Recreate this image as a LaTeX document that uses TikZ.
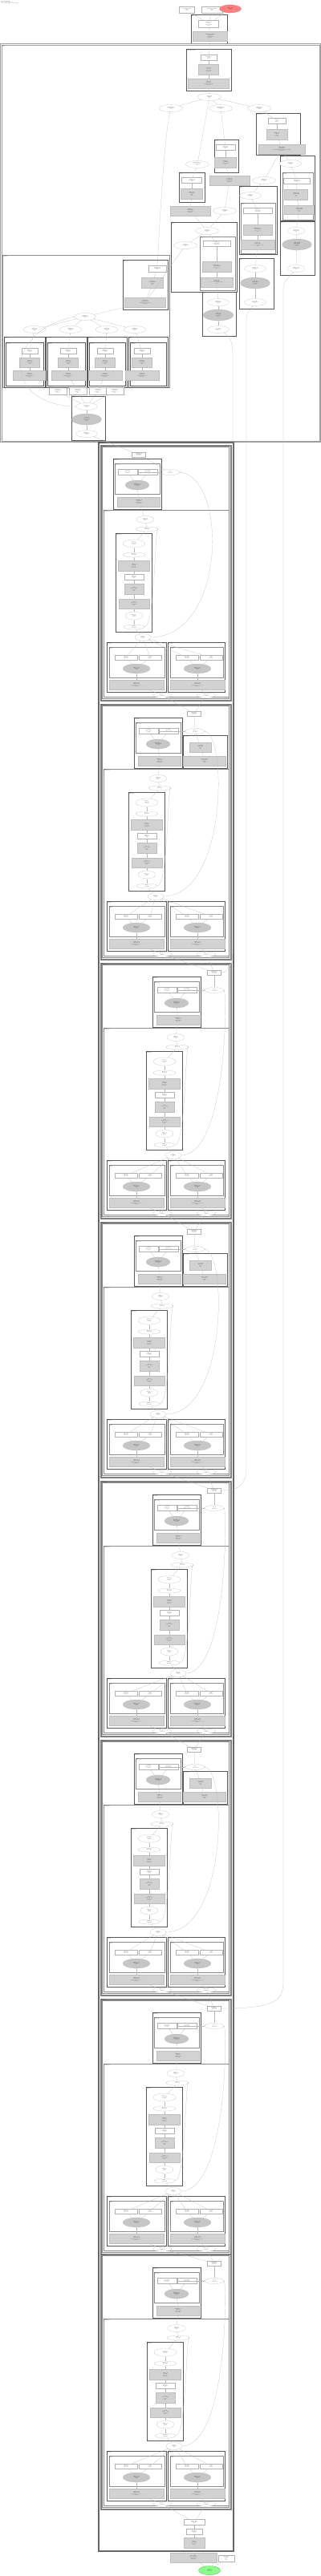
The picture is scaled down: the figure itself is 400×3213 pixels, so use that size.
\documentclass[tikz,border=0pt]{standalone}
\usetikzlibrary{shapes.geometric,arrows.meta}

\newcommand{\nodefont}{\fontsize{3.2}{3.7}\selectfont}
\newcommand{\grpfont}{\fontsize{3}{3.4}\selectfont}
\newcommand{\tx}[2]{\textbf{#1}\\#2}
\newcommand{\txx}[3]{\textbf{#1}\\#2\\#3}
\newcommand{\txxx}[4]{\textbf{#1}\\#2\\#3\\#4}

\tikzset{
  opbox/.style 2 args={draw=gray!60, fill=white, rectangle, minimum width=#1mm, minimum height=#2mm,
    inner sep=0.2mm, font=\nodefont, align=center},
  opgray/.style 2 args={opbox={#1}{#2}, fill=gray!35, draw=gray!50},
  opell/.style 2 args={opbox={#1}{#2}, ellipse},
  opgell/.style 2 args={opell={#1}{#2}, fill=gray!45, draw=gray!55},
  grp/.style={draw=black!65, line width=0.35mm},
  grpthin/.style={draw=black!45, line width=0.25mm},
  grpouter/.style={draw=black!60, line width=0.4mm},
  grplabel/.style={font=\grpfont, anchor=north west, inner sep=0.4mm, align=left},
  dep/.style={draw=gray!55, line width=0.2mm, -{Stealth[length=1mm,width=0.8mm]}},
}

% cluster frame with its label in the upper left corner
\newcommand{\grpbox}[5][grp]{\draw[#1] (#2) rectangle (#3); \node[grplabel] (#4) at (#2) {#5};}

% one decoder layer: #1 index, #2 top, #3 shift of the mlp chain, #4 header variant
\newcommand{\layerblock}[4]{%
  \ifcase#4 \def\hx{23}\def\ix{267}\def\gx{267}\or \def\hx{0}\def\ix{242}\def\gx{243}\or \def\hx{-26}\def\ix{173}\def\gx{212}\fi
  \begin{scope}[shift={(0,#2)}]
    \draw[grpouter, draw=black!50] (125,0) rectangle (288,319);
    \draw[grpouter, draw=black!50] (126.2,1.2) rectangle (286.8,317.8);
    \draw[grpthin] (127.5,2.5) rectangle (285.5,316.5);
    \node[grplabel] (L#1-lbl) at (125,0) {layers.#1\\DecoderLayer};
    \node[opbox={17}{6}] (L#1-in) at (\ix,12) {\txx{residual\_#1}{1x64x768}{float32}};
    \node[opell={24}{7}] (L#1-gate) at (\gx,34) {\tx{ln\_#1}{1x64x768}};
    \draw[dep] (L#1-gate) -- (L#1-in);
    % attention
    \begin{scope}[xshift=\hx mm]
      \grpbox{167,17}{227,80}{L#1-hl}{self\_attn.#1\\Attention}
      \grpbox[grpthin]{169,23}{225,61}{L#1-hil}{qk.#1\\Projection}
      \node[opbox={24}{7}] (L#1-ka) at (185,34) {\txx{q\_proj.#1}{768 -> 768}{weight}};
      \node[opbox={24}{7}] (L#1-kb) at (210,34) {\txx{k\_proj.#1}{768 -> 768}{weight}};
      \node[opgell={30}{12}] (L#1-ke) at (197,50) {\txx{matmul\_#1}{1x12x64x64}{scaled}};
      \node[opgray={53}{12}] (L#1-kg) at (199,71) {\txxx{softmax\_#1}{dim=-1}{1x12x64x64}{float32}};
    \end{scope}
    \draw[dep] (L#1-ka) -- (L#1-gate);
    \draw[dep] (L#1-kb) -- (L#1-gate);
    \draw[dep] (L#1-ke) -- (L#1-ka);
    \draw[dep] (L#1-ke) -- (L#1-kb);
    \draw[dep] (L#1-kg) -- (L#1-ke);
    \ifnum#4=1
      \grpbox{228,39}{283,80}{L#1-hr}{v.#1\\Projection}
      \node[opgray={27}{12}] (L#1-ra) at (250,54) {\txxx{v\_proj.#1}{1x64x768}{bias}{f32}};
      \node[opgray={53}{12}] (L#1-rb) at (255,71) {\txxx{attn\_out.#1}{1x64x768}{reshape}{f32}};
      \draw[dep] (L#1-ra) -- (L#1-gate);
      \draw[dep] (L#1-rb) -- (L#1-ra);
    \fi
    % feed forward
    \grpbox[grpthin]{129,81}{285,314}{L#1-bl}{mlp.#1\\FeedForward}
    \begin{scope}[xshift=#3 mm]
      \node[opell={22}{9}] (L#1-m1) at (197,93) {\txx{add\_#1}{1x64x768}{f32}};
      \node[opell={28}{6}] (L#1-m2) at (199,105) {\tx{norm\_#1}{eps=1e-5}};
      \grpbox{160,110}{205,233}{L#1-chl}{post.#1\\RMSNorm}
      \node[opell={28}{10}] (L#1-c1) at (183,123) {\txx{pow\_#1}{1x64x768}{exp=2}};
      \node[opell={28}{6}] (L#1-c2) at (183,137) {\tx{mean\_#1}{keepdim}};
      \node[opgray={39}{13}] (L#1-c3) at (183,151) {\txxx{rsqrt\_#1}{1x64x1}{eps=1e-5}{float32}};
      \node[opbox={24}{7}] (L#1-c4) at (183,165) {\txx{mul\_#1}{1x64x768}{f32}};
      \node[opgray={24}{13}] (L#1-c5) at (183,180) {\txxx{fc1.#1}{768 -> 3072}{gelu}{f32}};
      \node[opgray={38}{12}] (L#1-c6) at (183,198) {\txxx{fc2.#1}{3072 -> 768}{1x64x768}{f32}};
      \node[opell={22}{10}] (L#1-c7) at (183,213) {\txx{drop\_#1}{p=0.1}{train}};
      \node[opell={26}{6}] (L#1-c8) at (183,227) {\tx{add2\_#1}{1x64x768}};
      \node[opell={20}{9}] (L#1-m3) at (194,240) {\txx{out\_#1}{1x64x768}{f32}};
      \draw[dep] (L#1-c8.east) .. controls (209,227) and (209,105) .. (L#1-m2.east);
    \end{scope}
    \draw[dep] (L#1-m1) -- (L#1-kg);
    \draw[dep] (L#1-m2) -- (L#1-m1);
    \draw[dep] (L#1-c1) -- (L#1-m2);
    \foreach \j [count=\n from 2] in {1,...,7} {\draw[dep] (L#1-c\n) -- (L#1-c\j);}
    \draw[dep] (L#1-m3) -- (L#1-c8);
    \draw[dep] (L#1-m3.east) .. controls (283,238) and (283,40) .. (L#1-gate.east);
    % key / value caches
    \foreach \k/\xa/\xb/\ox in {1/133/207/202,2/209/280/257} {
      \grpbox{\xa,246}{\xb,308}{L#1-sl\k}{cache.\k\\KVCache}
      \grpbox[grpthin]{\xa+3,252}{\xb-2,290}{L#1-sil\k}{proj.\k\\Linear}
      \node[opbox={28}{6}] (L#1-sa\k) at (\xa+24,265) {\txx{w\_#1.\k}{768 x 768}{float32}};
      \node[opbox={28}{6}] (L#1-sb\k) at (\xa+54,265) {\txx{b\_#1.\k}{768}{float32}};
      \node[opgell={34}{12}] (L#1-se\k) at (\xa+37,279) {\txx{linear\_#1.\k}{1x64x768}{f32}};
      \node[opgray={68}{12}] (L#1-sg\k) at (\xa+37,299) {\txxx{cache\_#1.\k}{1x12x64x64}{transpose(0, 2, 1, 3)}{float16}};
      \node[opell={24}{6}] (L#1-o\k) at (\ox,312) {\tx{kv\_#1.\k}{1x12x64}};
      \draw[dep] (L#1-sa\k) -- (L#1-m3);
      \draw[dep] (L#1-sb\k) -- (L#1-m3);
      \draw[dep] (L#1-se\k) -- (L#1-sa\k);
      \draw[dep] (L#1-se\k) -- (L#1-sb\k);
      \draw[dep] (L#1-sg\k) -- (L#1-se\k);
      \draw[dep] (L#1-o\k) -- (L#1-sg\k);
    }
  \end{scope}}

\begin{document}
\begin{tikzpicture}[x=1mm,y=-1mm]
  \useasboundingbox (0,0) rectangle (400,3213);
  \node[grplabel] (title) at (1,1) {\textbf{decoder\_graph}\\nodes: 1412, edges: 1796\\ids [1, 64] -> logits [1, 64, 32000]};

  % inputs and embedding
  \node[opbox={19}{8}] (in1) at (233,12) {\txx{position\_ids}{1x64}{int64}};
  \node[opbox={26}{8}] (in2) at (264,12) {\txx{attention\_mask}{1x64}{int64}};
  \node[opell={27}{10}, fill=red!50, draw=red!60] (ids) at (287,11) {\txx{input\_ids}{1x64}{int64}};
  \grpbox{238,18}{283,54}{embl}{embed\\Embedding}
  \node[opbox={25}{9}] (e1) at (260,30) {\txxx{gather\_0}{1x64}{vocab 32000}{int64}};
  \node[opgray={43}{12}] (e2) at (262,45) {\txxx{embed\_tokens}{1x64x768}{32000 x 768}{float32}};
  \draw[dep] (e1) -- (in1);
  \draw[dep] (e1) -- (in2);
  \draw[dep] (e1) -- (ids);
  \draw[dep] (e2) -- (e1);

  % model setup
  \draw[grpouter, draw=gray!75] (0.5,54.5) rectangle (399.5,551.5);
  \draw[grpouter, draw=gray!75] (1.7,55.7) rectangle (398.3,550.3);
  \node[grplabel] (modl) at (2,56) {model\\Setup};
  \grpbox{232,61}{288,113}{rotl}{rotary\\RotaryEmbedding}
  \node[opbox={20}{7}] (n1) at (260,72) {\txx{arange\_0}{64}{int64}};
  \node[opgray={25}{13}] (n2) at (260,87) {\txxx{inv\_freq}{1x32}{theta=1e4}{float32}};
  \node[opgray={51}{12}] (n3) at (260,104) {\txxx{outer\_0}{1x64x32}{cat(freqs, freqs)}{float32}};
  \draw[dep] (n1) -- (e2);
  \draw[dep] (n2) -- (n1);
  \draw[dep] (n3) -- (n2);
  \node[opell={29}{9}] (r0) at (261,121) {\txx{cos\_sin}{1x64x64}{f32}};
  \draw[dep] (r0) -- (n3);
  \node[opell={29}{9}] (r1) at (213,135) {\txx{unsqueeze\_0}{1x1x64x64}{cos}};
  \node[opell={29}{9}] (r2) at (275,135) {\txx{unsqueeze\_1}{1x1x64x64}{sin}};
  \node[opell={29}{9}] (r3) at (323,135) {\txx{expand\_0}{1x1x64x64}{mask}};
  \foreach \r in {r1,r2,r3} {\draw[dep] (\r) -- (r0);}

  \grpbox{319,141}{374,193}{maskl}{mask\\CausalMask}
  \node[opbox={22}{7}] (t1) at (345,151) {\txx{triu\_0}{64x64}{diag=1}};
  \node[opgray={26}{13}] (t2) at (345,168) {\txxx{where\_0}{64x64}{-inf}{float32}};
  \node[opgray={58}{12}] (t3) at (351,186) {\txxx{add\_mask}{1x1x64x64}{broadcast(mask, attention\_mask)}{float32}};
  \draw[dep] (t1) -- (r3);
  \draw[dep] (t2) -- (t1);
  \draw[dep] (t3) -- (t2);

  \grpbox{267,174}{297,215}{sinl}{sin\\Rotate}
  \node[opbox={24}{7}] (u1) at (281,184) {\txx{slice\_0}{1x1x64x32}{f32}};
  \node[opgray={27}{13}] (u2) at (281,203) {\txxx{neg\_0}{1x1x64x32}{rotate\_half}{f32}};
  \draw[dep] (u1) -- (r2);
  \draw[dep] (u2) -- (u1);
  \node[opgray={50}{12}] (g1) at (286,225) {\txxx{concat\_0}{1x1x64x64}{cat(-x2, x1)}{float32}};
  \draw[dep] (g1) -- (u2);
  \node[opell={29}{9}] (r4) at (246,205) {\txx{unsqueeze\_2}{1x1x64x64}{pos}};
  \draw[dep] (r4) -- (r0);
  \grpbox{223,215}{255,252}{cosl}{cos\\Rotate}
  \node[opbox={25}{7}] (v1) at (239,225) {\txx{slice\_1}{1x1x64x32}{f32}};
  \node[opgray={27}{13}] (v2) at (239,242) {\txxx{mul\_cos}{1x1x64x32}{rotate}{f32}};
  \draw[dep] (v1) -- (r4);
  \draw[dep] (v2) -- (v1);
  \node[opgray={50}{12}] (g2) at (237,263) {\txxx{concat\_1}{1x1x64x64}{cat(x1, x2)}{float32}};
  \draw[dep] (g2) -- (v2);
  \node[opell={29}{9}] (r5) at (280,263) {\txx{rope\_0}{1x1x64x64}{f32}};
  \draw[dep] (r5) -- (g1);
  \node[opell={29}{9}] (r6) at (329,225) {\txx{mask\_0}{1x1x64x64}{f32}};
  \draw[dep] (r6) -- (t3);

  \grpbox{213,277}{295,364}{ropel}{rope\\Apply}
  \node[opell={29}{9}] (r7) at (258,288) {\txx{rope\_1}{1x1x64x64}{f32}};
  \node[opell={29}{9}] (r8) at (231,306) {\txx{rope\_2}{1x1x64x64}{f32}};
  \draw[dep] (r7) -- (g2);
  \draw[dep] (r7) -- (r5);
  \draw[dep] (r8) -- (r7);
  \grpbox[grpthin]{249,295}{293,362}{ropeal}{rope.q\\Linear}
  \node[opbox={34}{7}] (w1) at (270,304) {\txx{view\_0}{1x64x12x64}{contiguous}};
  \node[opgray={36}{13}] (w2) at (270,333) {\txxx{transpose\_0}{1x12x64x64}{(0, 2, 1, 3)}{f32}};
  \node[opgray={40}{12}] (w3) at (270,352) {\txxx{rotate\_q}{1x12x64x64}{q * cos + rot(q) * sin}{f32}};
  \draw[dep] (w1) -- (r7);
  \draw[dep] (w2) -- (w1);
  \draw[dep] (w3) -- (w2);

  \grpbox{298,232}{345,317}{ropekl}{rope.k\\Apply}
  \node[opell={27}{9}] (x0) at (312,244) {\txx{rope\_3}{1x1x64x64}{f32}};
  \draw[dep] (x0) -- (r6);
  \grpbox[grpthin]{300,253}{343,316}{ropekal}{rope.k\\Linear}
  \node[opbox={36}{7}] (x1) at (321,263) {\txx{view\_1}{1x64x12x64}{contiguous}};
  \node[opgray={36}{13}] (x2) at (321,287) {\txxx{transpose\_1}{1x12x64x64}{(0, 2, 1, 3)}{f32}};
  \node[opgray={42}{12}] (x3) at (321,305) {\txxx{rotate\_k}{1x12x64x64}{k * cos + rot(k) * sin}{f32}};
  \draw[dep] (x1) -- (x0);
  \draw[dep] (x2) -- (x1);
  \draw[dep] (x3) -- (x2);

  \grpbox{349,194}{392,275}{padl}{pad\\Mask}
  \node[opell={28}{9}] (y0) at (362,204) {\txx{pad\_0}{1x1x64x64}{f32}};
  \draw[dep] (y0) -- (t3);
  \grpbox[grpthin]{352,215}{390,274}{padal}{pad\\Expand}
  \node[opbox={33}{7}] (y1) at (370,226) {\txx{expand\_1}{1x12x64x64}{f32}};
  \node[opgray={29}{13}] (y2) at (369,243) {\txxx{mask\_fill}{1x12x64x64}{-inf}{f32}};
  \node[opgray={37}{11}] (y3) at (373,262) {\txxx{mask\_bias}{1x12x64x64}{scale}{f32}};
  \draw[dep] (y1) -- (y0);
  \draw[dep] (y2) -- (y1);
  \draw[dep] (y3) -- (y2);

  \grpbox{349,276}{392,343}{shmask}{mask\\Share}
  \node[opell={22}{9}] (z1) at (369,288) {\txx{share\_0}{1x12x64x64}{f32}};
  \node[opgell={37}{14}] (z2) at (370,305) {\txxx{cast\_mask}{1x12x64x64}{to float16}{f16}};
  \node[opell={22}{9}] (z3) at (369,335) {\txx{mask\_out}{1x12x64x64}{f16}};
  \draw[dep] (z1) -- (y3);
  \draw[dep] (z2) -- (z1);
  \draw[dep] (z3) -- (z2);
  \grpbox{298,322}{341,385}{shk}{k\\Share}
  \node[opell={27}{9}] (a1) at (318,335) {\txx{share\_1}{1x12x64x64}{f32}};
  \node[opgell={37}{14}] (a2) at (318,353) {\txxx{cast\_k}{1x12x64x64}{to float16}{f16}};
  \node[opell={27}{9}] (a3) at (318,377) {\txx{k\_out}{1x12x64x64}{f16}};
  \draw[dep] (a1) -- (x3);
  \draw[dep] (a2) -- (a1);
  \draw[dep] (a3) -- (a2);
  \grpbox{252,364}{294,419}{shq}{q\\Share}
  \node[opell={27}{9}] (b1) at (272,377) {\txx{share\_2}{1x12x64x64}{f32}};
  \node[opgell={38}{14}] (b2) at (272,393) {\txxx{cast\_q}{1x12x64x64}{to float16}{f16}};
  \node[opell={27}{9}] (b3) at (272,411) {\txx{q\_out}{1x12x64x64}{f16}};
  \draw[dep] (b1) -- (w3);
  \draw[dep] (b2) -- (b1);
  \draw[dep] (b3) -- (b2);

  % heads
  \grpbox[grpthin]{3,318}{211,483}{headsl}{heads\\MultiHead}
  \grpbox{153,324}{209,386}{hsplit}{split\\Reshape}
  \node[opbox={22}{8}] (p1) at (196,335) {\txx{reshape\_0}{1x64x12x64}{f32}};
  \node[opgray={27}{13}] (p2) at (190,353) {\txxx{split\_0}{4 x 1x64x3x64}{dim=2}{f32}};
  \node[opgray={51}{12}] (p3) at (181,377) {\txxx{stack\_0}{4x1x64x3x64}{stack(h0, h1, h2, h3)}{float32}};
  \draw[dep] (p2) -- (p1);
  \draw[dep] (p3) -- (p2);
  \draw[dep] (p1.north) .. controls (200,260) and (205,170) .. (r1);
  \draw[dep] (p3) -- (r8);
  \node[opell={27}{9}] (q0) at (106,395) {\txx{heads\_0}{4x1x64x3x64}{f32}};
  \draw[dep] (q0) -- (p3);
  \foreach \i/\a/\b/\cx/\qx/\kx in {1/5/56/37/43/72,2/57/108/85/88/97,3/109/158/131/133/122,4/160/209/177/168/143} {
    \node[opell={28}{9}] (q\i) at (\qx,411) {\txx{select\_\i}{1x64x3x64}{f32}};
    \draw[dep] (q\i) -- (q0);
    \grpbox{\a,420}{\b,483}{hl\i}{head.\i\\Head}
    \grpbox{\a+2,427}{\b-2,481}{hil\i}{score.\i\\Attention}
    \node[opbox={20}{7}] (ha\i) at (\cx,438) {\txx{bmm\_\i}{1x3x64x64}{f32}};
    \node[opgray={25}{12}] (hb\i) at (\cx,452) {\txxx{scale\_\i}{1x3x64x64}{1/sqrt(64)}{f32}};
    \node[opgray={42}{12}] (hc\i) at (\cx,468) {\txxx{probs\_\i}{1x3x64x64}{softmax(dim=-1)}{float32}};
    \draw[dep] (ha\i) -- (q\i);
    \draw[dep] (hb\i) -- (ha\i);
    \draw[dep] (hc\i) -- (hb\i);
    \node[opbox={22}{9}] (k\i) at (\kx,488) {\txxx{context\_\i}{1x3x64x64}{bmm(p, v)}{f32}};
    \draw[dep] (k\i) -- (hc\i);
  }
  \grpbox{89,494}{131,549}{mergel}{merge\\Concat}
  \node[opell={27}{9}] (s1) at (108,507) {\txx{concat\_2}{1x64x768}{f32}};
  \node[opgell={37}{14}] (s2) at (108,523) {\txxx{o\_proj}{768 -> 768}{1x64x768}{f32}};
  \node[opell={27}{9}] (s3) at (108,541) {\txx{hidden\_0}{1x64x768}{f32}};
  \foreach \i in {1,...,4} {\draw[dep] (s1) -- (k\i);}
  \draw[dep] (s2) -- (s1);
  \draw[dep] (s3) -- (s2);
  \draw[dep] (s1.west) .. controls (4,505) and (2,415) .. (q0.west);

  % decoder layers
  \draw[grpouter] (122,551) rectangle (291,3182);
  \draw[grpouter] (123.2,552.2) rectangle (289.8,3180.8);
  \node[grplabel] (layl) at (122,551) {layers\\ModuleList};
  \layerblock{0}{555}{-16}{2}
  \layerblock{1}{878}{0}{1}
  \layerblock{2}{1201}{22}{0}
  \layerblock{3}{1524}{3}{1}
  \layerblock{4}{1847}{28}{0}
  \layerblock{5}{2170}{3}{1}
  \layerblock{6}{2493}{22}{0}
  \layerblock{7}{2811}{23}{0}
  \draw[dep] (L0-in) -- (s3);
  \foreach \p [count=\k] in {0,...,6} {
    \draw[dep] (L\k-in) -- (L\p-o1);
    \draw[dep] (L\k-in) -- (L\p-o2);
  }
  % shared tensors from the setup
  \draw[dep] (L2-in.east) .. controls (285,1213) and (290,1205) .. (290,1185) -- (290,440) .. controls (290,425) and (285,418) .. (b3);
  \draw[dep] (L4-in.east) .. controls (300,1859) and (307,1850) .. (307,1830) -- (307,400) .. controls (307,390) and (312,386) .. (a3);
  \draw[dep] (L6-in.east) .. controls (345,2505) and (353,2495) .. (353,2470) -- (353,360) .. controls (353,350) and (362,344) .. (z3);

  % head of the model
  \node[opbox={26}{7}] (f1) at (242,3146) {\txx{final\_add}{1x64x768}{f32}};
  \node[opbox={20}{7}] (f2) at (242,3158) {\txx{norm\_f}{1x64x768}{f32}};
  \node[opgray={26}{13}] (f3) at (242,3172) {\txxx{rms\_f}{1x64x768}{eps=1e-5}{f32}};
  \node[opgray={58}{12}] (f4) at (241,3190) {\txxx{lm\_head}{768 -> 32000}{1x64x32000}{float32}};
  \node[opbox={20}{8}] (f5) at (282,3191) {\txxx{lm\_bias}{32000}{zeros}{f32}};
  \node[opell={27}{11}, fill=green!45, draw=green!60!black] (logits) at (261,3206) {\txx{logits}{1x64x32000}{float32}};
  \draw[dep] (f1) -- (L7-o1);
  \draw[dep] (f1) -- (L7-o2);
  \draw[dep] (f2) -- (f1);
  \draw[dep] (f3) -- (f2);
  \draw[dep] (f4) -- (f3);
  \draw[dep] (logits) -- (f4);
  \draw[dep] (logits) -- (f5);
\end{tikzpicture}
\end{document}
